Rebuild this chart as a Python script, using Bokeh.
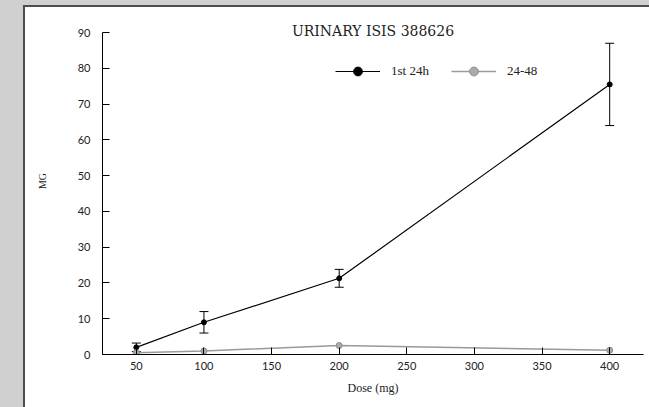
from bokeh.plotting import figure
from bokeh.models import (ColumnDataSource, Whisker, TeeHead, Label,
                          FixedTicker, Range1d, Legend)
from bokeh.embed import file_html
from bokeh.resources import INLINE

# ---- data ----
dose = [50, 100, 200, 400]
first24 = [2.0, 9.0, 21.3, 75.5]
first24_err = [1.2, 3.0, 2.5, 11.5]
h24_48 = [0.5, 1.0, 2.5, 1.2]
x_ticks = [50, 100, 150, 200, 250, 300, 350, 400]
y_ticks = [0, 10, 20, 30, 40, 50, 60, 70, 80, 90]
title_text = "URINARY ISIS 388626"

SERIF = "Liberation Serif"
TITLE_FONT = "DejaVu Serif"
SANS = "Lato"
GRAY = "#d0d0d0"
DARK = "#4d4d4d"

src1 = ColumnDataSource(dict(
    x=dose, y=first24,
    lo=[v - e for v, e in zip(first24, first24_err)],
    hi=[v + e for v, e in zip(first24, first24_err)],
))
src2 = ColumnDataSource(dict(x=dose, y=h24_48))

shadow = ", ".join([
    f"-2px 0 0 0 {DARK}", f"0 -2px 0 0 {DARK}", f"-2px -2px 0 0 {DARK}",
    f"-25px 0 0 0 {GRAY}", f"0 -7px 0 0 {GRAY}", f"-25px -7px 0 0 {GRAY}",
])

p = figure(width=624, height=400, output_backend="svg", toolbar_location=None,
           x_range=Range1d(25, 425), y_range=Range1d(0, 97.0),
           min_border_left=77, min_border_right=6, min_border_top=0,
           min_border_bottom=53,
           styles={"margin-left": "25px", "margin-top": "7px",
                   "box-shadow": shadow})
p.outline_line_color = None
p.grid.visible = False
p.background_fill_color = "white"
p.border_fill_color = "white"

# series
l1 = p.line("x", "y", source=src1, line_color="black", line_width=1.2)
s1 = p.scatter("x", "y", source=src1, size=5, fill_color="black",
               line_color="black")
l2 = p.line("x", "y", source=src2, line_color="#9a9a9a", line_width=1.5)
s2 = p.scatter("x", "y", source=src2, size=6, fill_color="#ababab",
               line_color="#8c8c8c")

w = Whisker(source=src1, base="x", lower="lo", upper="hi",
            line_color="black", line_width=1,
            upper_head=TeeHead(size=9, line_color="black", line_width=1),
            lower_head=TeeHead(size=9, line_color="black", line_width=1))
p.add_layout(w)

# axes
for ax in (p.xaxis[0], p.yaxis[0]):
    ax.axis_line_color = "black"
    ax.axis_line_width = 1
    ax.major_tick_in = 7
    ax.major_tick_out = 0
    ax.minor_tick_line_color = None
    ax.major_tick_line_color = "black"
    ax.major_label_text_font = SANS
    ax.major_label_text_font_size = "11px"
    ax.major_label_text_color = "#222222"
    ax.axis_label_text_font = SERIF
    ax.axis_label_text_font_style = "normal"
    ax.axis_label_text_color = "#222222"

p.xaxis[0].ticker = FixedTicker(ticks=x_ticks)
p.yaxis[0].ticker = FixedTicker(ticks=y_ticks)
p.yaxis[0].bounds = (0, 90)
p.xaxis[0].axis_label = "Dose (mg)"
p.xaxis[0].axis_label_text_font_size = "12px"
p.xaxis[0].major_label_standoff = 7
p.xaxis[0].axis_label_standoff = 8
p.yaxis[0].axis_label = "MG"
p.yaxis[0].axis_label_text_font_size = "10px"
p.yaxis[0].major_label_standoff = 12
p.yaxis[0].axis_label_standoff = 27

# title
p.add_layout(Label(x=225, y=90.4, text=title_text, text_align="center",
                   text_baseline="middle", text_font=TITLE_FONT,
                   text_font_size="14px", text_color="#222222"))

# legend
legend = Legend(items=[("1st 24h", [l1, s1]), ("24-48", [l2, s2])],
                orientation="horizontal", location=(233, 272),
                border_line_color=None, background_fill_alpha=0,
                glyph_width=45, glyph_height=22, label_standoff=11,
                spacing=22, padding=5, margin=0,
                label_text_font=SERIF, label_text_font_size="13px",
                label_text_color="#222222")
p.add_layout(legend, "center")

open("out.html", "w").write(file_html(p, INLINE))
